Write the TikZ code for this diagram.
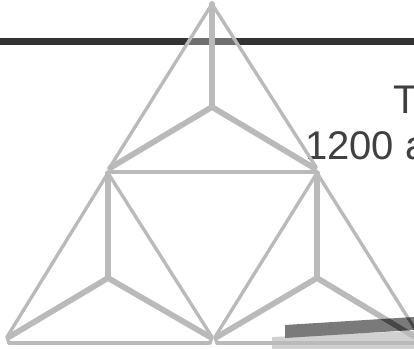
\documentclass[tikz,border=0pt]{standalone}
\usepackage{fontspec}
\setmainfont{Liberation Sans}
\tikzset{
  thinedge/.style={draw=black!27,line width=2.5pt,line join=round,line cap=round},
  spoke/.style={draw=black!27,line width=4.3pt,line join=round,line cap=round},
  veil/.style={fill=white,fill opacity=0.3},
  bigtext/.style={anchor=base west,inner sep=0pt,text=black!75,font=\fontsize{30}{30}\selectfont}
}
\begin{document}
\begin{tikzpicture}[x=0.75pt,y=-0.75pt]
\clip (0,0) rectangle (414,349);
\fill[white] (0,0) rectangle (414,349);
% printed page behind the triangles
\fill[black!80] (0,38.5) rectangle (414,45);
\fill[black!18] (272,337)--(414,331)--(414,349)--(272,349)--cycle;
\fill[black!52] (285,325)--(414,317)--(414,330)--(285,338)--cycle;
\node[bigtext] (line1) at (393,114) {T};
\node[bigtext] (line2) at (305,160) {1200 a};
% veil over the top triangle, then the edges
\fill[veil] (212,3)--(316,172)--(110,172)--cycle;
\foreach \ax/\ay/\lx/\ly/\rx/\ry/\by in {212/4/110/167/316/167/172,108/173/7/337/212/337/343,317/173/215/337/420/337/343}{
  \draw[thinedge] (\lx,\ly)--(\ax,\ay)--(\rx,\ry);
  \draw[thinedge] (\lx+2,\by)--(\rx-2,\by);
  \draw[thinedge] (\lx,\ly)--(\lx+2,\by);
  \draw[thinedge] (\rx,\ry)--(\rx-2,\by);
}
\foreach \ax/\ay/\lx/\ly/\rx/\ry/\cx/\cy in {212/4/110/168/314/168/212/107,108/173/9/337/210/337/108/278,317/173/217/337/420/340/317/278}{
  \draw[spoke] (\ax,\ay)--(\cx,\cy);
  \draw[spoke] (\lx,\ly)--(\cx,\cy);
  \draw[spoke] (\rx,\ry)--(\cx,\cy);
}
% darker where the last triangle runs over the band
\begin{scope}
\clip (285,325)--(414,317)--(414,330)--(285,338)--cycle;
\draw[draw=black!72,line width=4.3pt] (317,278)--(420,340);
\draw[draw=black!72,line width=2.5pt] (317,173)--(420,337);
\end{scope}
\end{tikzpicture}
\end{document}
